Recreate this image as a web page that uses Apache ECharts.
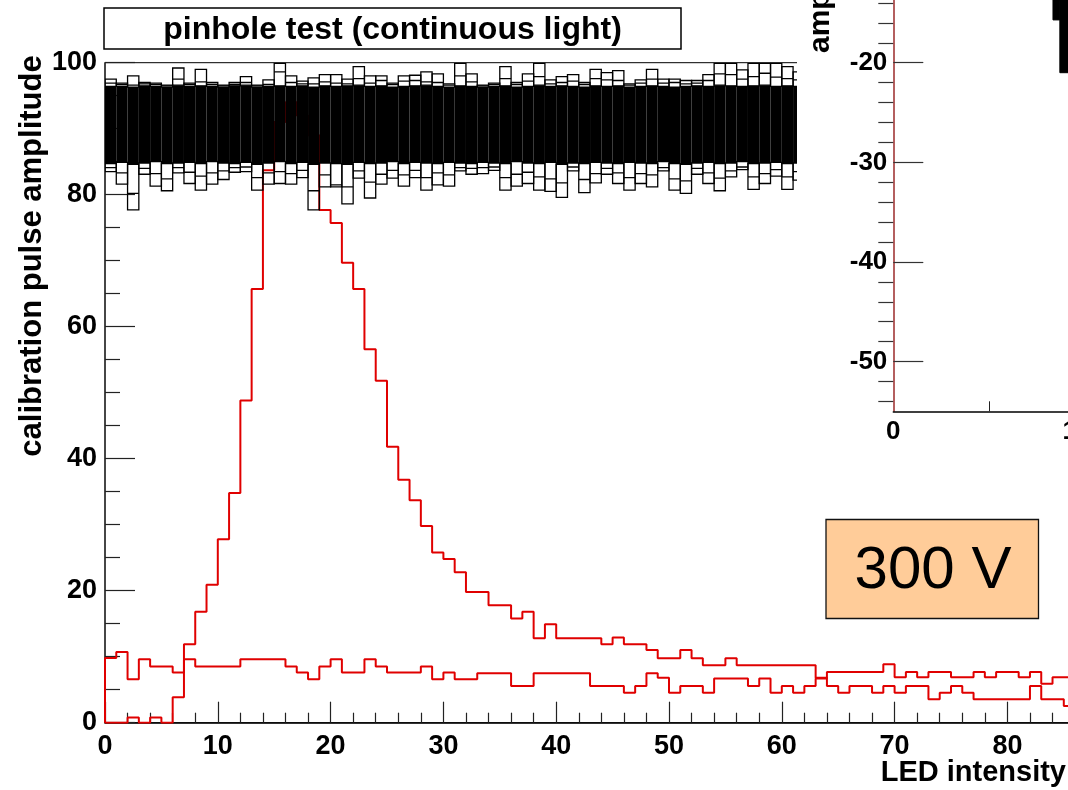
<!DOCTYPE html>
<html><head><meta charset="utf-8">
<script src="https://cdn.jsdelivr.net/npm/echarts@6/dist/echarts.min.js"></script>
<style>html,body{margin:0;padding:0;background:#fff}#c{width:1068px;height:790px}</style>
</head><body><div id="c"></div>
<script>
// ---- data (bin k spans LED intensity k..k+1) ----
const peakCurve = [0,0,0.8,0,0.8,0,3.85,11.9,16.8,20.9,27.8,34.8,48.8,65.7,83.7,91,94,92,89,77.7,
  75.7,69.7,65.7,56.6,51.8,41.8,36.8,33.7,29.8,25.8,24.8,22.8,19.8,19.8,17.8,17.8,15.8,16.8,12.8,14.9,
  12.8,12.8,12.8,12.8,11.9,12.9,11.9,11.9,11.0,9.75,9.75,11.0,9.75,8.7,8.7,9.75,8.7,8.7,8.7,8.7,
  8.7,8.7,8.7,6.8,5.56,4.55,5.56,5.56,4.55,5.56,4.55,5.56,5.56,3.54,4.55,5.56,4.55,3.54,3.54,3.54,
  3.54,3.54,5.56,3.54,3.54,2.53];
const flatCurve = [9.8,10.7,6.6,9.6,8.5,8.5,7.6,9.6,8.5,8.5,8.5,8.5,9.6,9.6,9.6,9.6,8.5,7.6,6.6,8.5,
  9.6,7.6,7.6,9.6,8.5,7.6,7.6,7.6,8.5,6.6,7.6,6.6,6.6,7.5,7.5,7.5,5.56,5.56,7.5,7.5,
  7.5,7.5,7.5,5.56,5.56,5.56,4.55,5.56,7.5,6.8,4.55,5.56,5.56,4.55,6.7,6.7,6.7,5.56,6.7,4.55,
  5.56,4.55,5.56,6.7,7.7,7.7,7.7,7.7,7.7,8.85,6.9,7.7,6.9,7.7,7.7,6.9,6.9,7.7,6.9,7.7,
  7.7,6.9,7.7,5.9,6.9,6.9];
// overlaid calibration histograms (bins 0..61): envelope, inner lines and dense core
const bandMax = [97.5,96.9,98.0,97.0,96.9,96.6,99.2,96.9,99.0,97.0,96.6,97.0,97.9,96.6,97.4,99.9,98.0,97.2,97.7,98.2,
  98.2,97.5,99.4,98.0,98.0,96.9,98.0,98.1,98.6,98.3,96.8,99.9,98.3,96.6,96.9,99.4,97.0,98.3,99.9,97.4,
  97.9,98.2,97.0,99.0,98.5,98.8,96.8,97.4,99.0,97.5,97.5,97.3,97.3,98.2,99.9,99.9,98.9,99.9,99.9,99.9,
  99.4,98.6];
const bandUpper2 = [96.9,96.7,96.6,96.8,96.7,96.5,97.5,96.7,97.1,96.7,96.5,96.7,97.0,96.5,96.7,98.6,97.0,96.8,96.8,97.1,
  96.9,96.8,97.6,96.9,97.3,96.7,97.2,97.3,97.1,97.0,96.6,98.0,97.1,96.5,96.7,97.6,96.7,97.2,97.9,96.8,
  97.0,97.2,96.7,97.6,97.4,97.3,96.6,96.9,97.5,96.9,97.0,96.8,96.9,97.3,98.3,98.2,97.5,97.9,98.4,97.8,
  97.6,97.4];
const bandCoreHi = [96.4,96.4,96.3,96.5,96.4,96.3,96.6,96.4,96.5,96.4,96.3,96.5,96.6,96.3,96.4,96.5,96.4,96.5,96.3,96.5,
  96.4,96.5,96.6,96.4,96.5,96.3,96.4,96.5,96.6,96.4,96.3,96.5,96.4,96.3,96.4,96.5,96.3,96.4,96.6,96.4,
  96.5,96.4,96.3,96.5,96.4,96.5,96.3,96.4,96.5,96.4,96.3,96.4,96.5,96.4,96.6,96.5,96.4,96.5,96.6,96.4,
  96.5,96.4];
const bandCoreLo = [84.7,84.9,84.6,84.8,85.0,84.7,84.8,84.9,84.7,85.0,84.8,84.7,84.9,84.6,84.8,85.0,84.7,84.9,84.6,84.8,
  84.7,84.6,84.9,84.7,84.8,85.0,84.7,84.9,84.8,84.7,84.9,84.8,84.7,84.9,84.8,84.7,85.0,84.8,84.7,84.9,
  84.6,84.8,84.7,84.9,84.8,84.7,84.9,84.8,84.7,85.0,84.7,84.6,84.8,84.9,84.7,84.8,85.0,84.7,84.8,84.9,
  84.7,84.8];
const bandLower2 = [84.1,83.3,80.2,84.0,83.2,82.4,84.1,83.4,82.8,83.3,83.6,84.1,84.2,82.6,83.3,83.5,83.2,83.7,80.6,83.0,
  81.5,81.2,83.6,81.9,83.1,83.7,83.0,83.7,82.6,83.3,83.0,84.1,84.0,84.1,84.2,82.6,83.1,83.4,82.7,82.4,
  81.8,84.2,82.3,83.2,84.0,83.3,82.6,83.2,83.0,84.1,82.4,82.1,84.0,83.3,82.5,83.6,84.2,82.7,83.2,83.8,
  82.7,83.5];
const bandMin = [83.5,81.6,77.7,83.1,81.3,80.6,83.3,81.7,80.7,81.6,82.3,83.4,83.5,80.7,81.6,81.7,81.6,82.6,77.7,81.2,
  81.2,78.6,82.5,79.5,81.6,82.5,81.3,82.6,80.7,81.5,81.3,83.6,83.1,83.2,83.7,80.7,81.3,81.7,80.7,80.5,
  79.6,83.6,80.3,81.8,83.1,81.7,80.7,81.7,81.2,83.6,80.7,80.2,83.1,81.7,80.6,82.7,83.8,80.8,81.7,82.8,
  80.8,82.2];
// inset pad (partly visible)
const insetMajorTicks = [-50,-40,-30,-20];
const insetMinorTicks = [-54,-52,-48,-46,-44,-42,-38,-36,-34,-32,-28,-26,-24,-22,-18,-16,-14];
const insetXLabels = [0,100];
const insetXMinor = [50];
const insetBlockX0 = [83.6,87.2];
const insetBlockX1 = [87.2,100];
const insetBlockHi = [-13.7,-13.7];
const insetBlockLo = [-15.7,-21.0];

const FF = "'Liberation Sans', Arial, Helvetica, sans-serif";
function hist(vals){ const d=[[0,0]]; vals.forEach((v,i)=>d.push([i,v])); d.push([vals.length, vals[vals.length-1]]); return d; }
const bandData = bandMax.map((v,i)=>[i,v,bandUpper2[i],bandCoreHi[i],bandCoreLo[i],bandLower2[i],bandMin[i]]);
const blockData = insetBlockX0.map((v,i)=>[v,insetBlockX1[i],insetBlockHi[i],insetBlockLo[i]]);

const chart = echarts.init(document.getElementById('c'), null, {renderer:'canvas'});
const ax = {color:'#000', fontFamily:FF, fontWeight:'bold', fontSize:27};
chart.setOption({
  animation:false,
  backgroundColor:'#fff',
  grid:[
    {left:105, top:62.7, width:90*11.28, height:660, show:true, borderColor:'#000', borderWidth:1, backgroundColor:'transparent', outerBoundsMode:'none', containLabel:false},
    {left:893.3, top:0, width:191, height:411.3, show:false, outerBoundsMode:'none', containLabel:false}
  ],
  xAxis:[
    {type:'value', gridIndex:0, min:0, max:90, interval:10,
     axisLine:{show:true,onZero:false,lineStyle:{color:'#000',width:1.5}},
     axisTick:{inside:true,length:21,lineStyle:{color:'#222',width:1.2}},
     minorTick:{show:true,splitNumber:5,length:10,lineStyle:{color:'#222',width:1.2}},
     splitLine:{show:false}, minorSplitLine:{show:false},
     axisLabel:Object.assign({margin:10},ax)},
    {type:'value', gridIndex:1, min:0, max:100, z:60,
     axisLine:{show:true,onZero:false,lineStyle:{color:'#000',width:1.5}},
     axisTick:{show:true,inside:true,length:10,customValues:insetXMinor,lineStyle:{color:'#222'}},
     splitLine:{show:false},
     axisLabel:Object.assign({margin:8,customValues:insetXLabels},ax,{fontSize:26})}
  ],
  yAxis:[
    {type:'value', gridIndex:0, min:0, max:100, interval:20,
     axisLine:{show:true,onZero:false,lineStyle:{color:'#333',width:1.5}},
     axisTick:{inside:true,length:30,lineStyle:{color:'#222',width:1.2}},
     minorTick:{show:true,splitNumber:4,length:15,lineStyle:{color:'#222',width:1.2}},
     splitLine:{show:false}, minorSplitLine:{show:false},
     axisLabel:Object.assign({margin:8},ax)},
    {type:'value', gridIndex:1, min:-55, max:-13.7, z:60,
     axisLine:{show:true,onZero:false,lineStyle:{color:'#9b2a2a',width:1.5}},
     axisTick:{show:true,inside:true,length:30,customValues:insetMajorTicks,lineStyle:{color:'#333',width:1.2}},
     splitLine:{show:false},
     axisLabel:Object.assign({margin:6,customValues:insetMajorTicks},ax,{fontSize:26})},
    {type:'value', gridIndex:1, min:-55, max:-13.7, z:60,
     axisLine:{show:false},
     axisTick:{show:true,inside:true,length:15,customValues:insetMinorTicks,lineStyle:{color:'#333',width:1.2}},
     splitLine:{show:false}, axisLabel:{show:false}}
  ],
  series:[
    {type:'line', xAxisIndex:0, yAxisIndex:0, step:'end', data:hist(flatCurve), symbol:'none', z:2,
     lineStyle:{color:'#e00000',width:2}},
    {type:'line', xAxisIndex:0, yAxisIndex:0, step:'end', data:hist(peakCurve), symbol:'none', z:2,
     lineStyle:{color:'#e00000',width:2}},
    {type:'custom', xAxisIndex:0, yAxisIndex:0, z:3, data:bandData, clip:true,
     renderItem:function(p,api){
       const k=api.value(0);
       const x0=api.coord([k,0])[0], x1=api.coord([k+1,0])[0], w=x1-x0;
       const Y=v=>api.coord([k,v])[1];
       const mx=Y(api.value(1)), u2=Y(api.value(2)), hi=Y(api.value(3)), lo=Y(api.value(4)), l2=Y(api.value(5)), mn=Y(api.value(6));
       const st={stroke:'#000',lineWidth:1.3,fill:null};
       return {type:'group',children:[
         {type:'rect',shape:{x:x0,y:hi,width:w,height:lo-hi},style:{fill:'#000'}},
         {type:'rect',shape:{x:x0,y:mx,width:w,height:hi-mx},style:st},
         {type:'rect',shape:{x:x0,y:lo,width:w,height:mn-lo},style:st},
         {type:'line',shape:{x1:x0,y1:u2,x2:x1,y2:u2},style:{stroke:'#000',lineWidth:1.3}},
         {type:'line',shape:{x1:x0,y1:l2,x2:x1,y2:l2},style:{stroke:'#000',lineWidth:1.3}}
       ]};
     }},
    {type:'custom', xAxisIndex:1, yAxisIndex:1, z:60, data:blockData,
     renderItem:function(p,api){
       const a=api.coord([api.value(0),api.value(2)]), b=api.coord([api.value(1),api.value(3)]);
       return {type:'rect',shape:{x:a[0],y:a[1],width:b[0]-a[0],height:b[1]-a[1]},style:{fill:'#000',stroke:'#000'}};
     }}
  ],
  graphic:[
    {type:'rect', z:50, shape:{x:797,y:0,width:280,height:445}, style:{fill:'#fff'}},
    {type:'text', z:61, x:821, y:53, rotation:Math.PI/2,
     style:{text:'amplitude', font:"bold 30px "+FF, fill:'#000', align:'left', verticalAlign:'middle'}},
    {type:'rect', z:70, shape:{x:104,y:8,width:577,height:41}, style:{fill:'#fff',stroke:'#000',lineWidth:1.5}},
    {type:'text', z:71, x:392.5, y:30, style:{text:'pinhole test (continuous light)', font:"bold 32px "+FF, fill:'#000', align:'center', verticalAlign:'middle'}},
    {type:'text', z:71, x:32, y:256, rotation:Math.PI/2,
     style:{text:'calibration pulse amplitude', font:"bold 31px "+FF, fill:'#000', align:'center', verticalAlign:'middle'}},
    {type:'text', z:71, x:1066, y:773, style:{text:'LED intensity', font:"bold 29px "+FF, fill:'#000', align:'right', verticalAlign:'middle'}},
    {type:'rect', z:70, shape:{x:826,y:519.5,width:212.5,height:99}, style:{fill:'#ffcc99',stroke:'#111',lineWidth:1.3}},
    {type:'text', z:71, x:933, y:571, style:{text:'300 V', font:"60px "+FF, fill:'#000', align:'center', verticalAlign:'middle'}}
  ]
});
</script></body></html>
